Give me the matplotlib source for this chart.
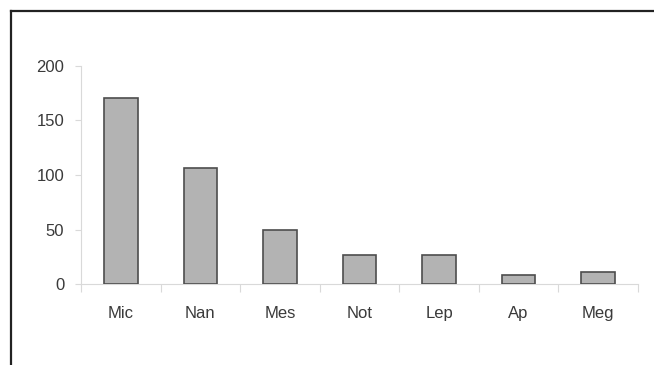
import numpy as np
import matplotlib
matplotlib.use("Agg")
import matplotlib.pyplot as plt
from matplotlib.lines import Line2D

plt.rcParams["font.family"] = ["Liberation Sans", "DejaVu Sans"]

categories = ["Mic", "Nan", "Mes", "Not", "Lep", "Ap", "Meg"]
counts = [171, 106, 50, 27, 27, 8, 11]
y_ticks = [0, 50, 100, 150, 200]

fig = plt.figure(figsize=(6.54, 3.65), dpi=100)
ax = fig.add_axes([0.1239, 0.2219, 0.8516, 0.5973])

x = np.arange(len(categories))
ax.bar(x, counts, width=0.42, color="#b3b3b3", edgecolor="#4d4d4d", linewidth=1.2, zorder=3)

ax.set_xlim(-0.5, len(categories) - 0.5)
ax.set_ylim(0, 200)
ax.set_yticks(y_ticks)

# category labels sit between boundary ticks
ax.set_xticks(x)
ax.set_xticklabels(categories, fontsize=12, color="#3a3a3a")
ax.tick_params(axis="x", length=0, pad=16)
ax.set_xticks(np.arange(len(categories) + 1) - 0.5, minor=True)
ax.tick_params(axis="x", which="minor", length=6, color="#d9d9d9", width=0.8)
ax.tick_params(axis="y", length=4, color="#d9d9d9", width=0.8, labelsize=12,
               labelcolor="#3a3a3a", pad=8)

for side in ["top", "right"]:
    ax.spines[side].set_visible(False)
for side in ["left", "bottom"]:
    ax.spines[side].set_color("#d9d9d9")
    ax.spines[side].set_linewidth(0.8)

# frame of the original figure (left and top edges only)
fig.add_artist(Line2D([11 / 654, 11 / 654], [0, 1 - 11 / 365], color="#222222", lw=1.6))
fig.add_artist(Line2D([11 / 654, 1], [1 - 11 / 365, 1 - 11 / 365], color="#222222", lw=1.6))

fig.savefig("out.png", dpi=100)
